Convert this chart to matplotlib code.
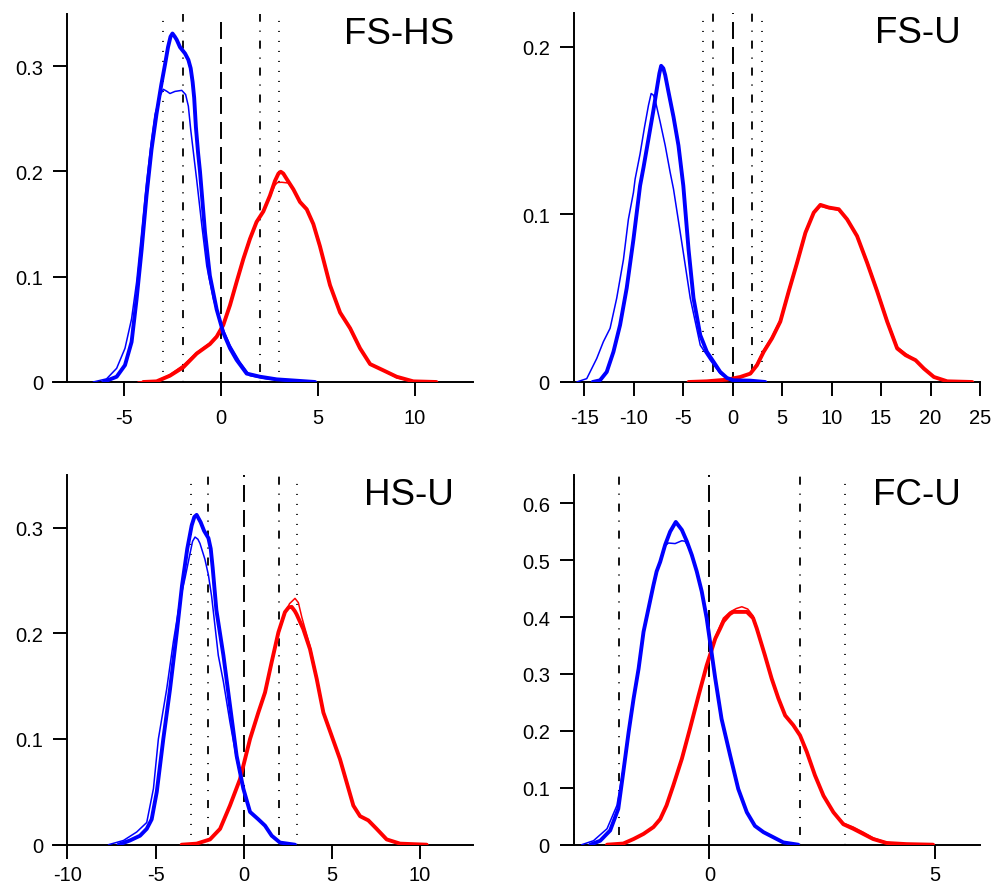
import matplotlib
matplotlib.use("Agg")
import matplotlib.pyplot as plt

plt.rcParams['font.family'] = ['Liberation Sans', 'DejaVu Sans']
plt.rcParams['lines.scale_dashes'] = False

# ---------------- Panel FS-HS ----------------
fshs_blue_thick_x = [-6.09, -5.40, -4.97, -4.63, -4.37, -4.11, -3.86, -3.60, -3.34, -3.10, -2.90, -2.75, -2.62, -2.52,
                     -2.40, -2.30, -2.13, -1.87, -1.70, -1.58, -1.48, -1.40, -1.31, -1.20, -1.10, -0.84, -0.59, -0.24,
                     0.10, 0.45, 0.79, 1.31, 2.0, 2.86, 4.06, 4.84]
fshs_blue_thick_y = [0, 0.005, 0.016, 0.038, 0.079, 0.126, 0.177, 0.221, 0.255, 0.282, 0.302, 0.318, 0.328, 0.331,
                     0.328, 0.325, 0.318, 0.312, 0.306, 0.298, 0.285, 0.270, 0.242, 0.218, 0.200, 0.142, 0.101, 0.069,
                     0.047, 0.032, 0.021, 0.008, 0.005, 0.0025, 0.001, 0]
fshs_blue_thin_x = [-6.61, -5.92, -5.40, -4.97, -4.63, -4.37, -4.11, -3.86, -3.60, -3.42, -3.16, -2.99, -2.80, -2.65,
                    -2.39, -2.04, -1.84, -1.70, -1.58, -1.40, -1.27, -1.0, -0.75, -0.41, -0.07, 0.45, 0.96, 1.48,
                    2.34, 3.37, 4.06]
fshs_blue_thin_y = [0, 0.003, 0.013, 0.032, 0.060, 0.095, 0.142, 0.189, 0.230, 0.254, 0.272, 0.278, 0.276, 0.274,
                    0.276, 0.277, 0.273, 0.262, 0.240, 0.212, 0.192, 0.148, 0.110, 0.079, 0.057, 0.035, 0.019, 0.006,
                    0.003, 0.001, 0]
fshs_red_thick_x = [-4.03, -3.34, -2.65, -1.96, -1.27, -0.59, -0.24, 0.10, 0.45, 0.79, 1.14, 1.48, 1.82, 2.17, 2.51,
                    2.77, 2.95, 3.07, 3.20, 3.37, 3.72, 4.06, 4.41, 4.75, 5.09, 5.61, 6.13, 6.65, 7.16, 7.68, 8.37,
                    9.05, 9.91, 11.1]
fshs_red_thick_y = [0, 0.0006, 0.006, 0.014, 0.027, 0.036, 0.043, 0.054, 0.073, 0.095, 0.117, 0.136, 0.152, 0.162, 0.177,
                    0.191, 0.198, 0.1997, 0.198, 0.193, 0.183, 0.171, 0.164, 0.150, 0.129, 0.092, 0.066, 0.051, 0.032,
                    0.017, 0.011, 0.005, 0.0006, 0]
fshs_red_thin_x = [-4.3, -3.34, -2.65, -1.96, -1.27, -0.59, -0.24, 0.10, 0.45, 0.79, 1.14, 1.48, 1.82, 2.17, 2.51,
                   2.77, 2.90, 3.12, 3.46, 3.80, 4.06, 4.41, 4.75, 5.09, 5.61, 6.13, 6.65, 7.16, 7.68, 8.37, 9.05,
                   9.91, 10.8]
fshs_red_thin_y = [0, 0.0008, 0.007, 0.016, 0.028, 0.037, 0.044, 0.055, 0.074, 0.096, 0.118, 0.137, 0.152, 0.162, 0.176,
                   0.187, 0.1895, 0.1897, 0.189, 0.180, 0.171, 0.165, 0.151, 0.130, 0.093, 0.066, 0.050, 0.031,
                   0.017, 0.011, 0.004, 0.0005, 0]

# ---------------- Panel FS-U ----------------
fsu_blue_thick_x = [-14.14, -13.4, -12.72, -12.04, -11.37, -10.7, -10.02, -9.35, -9.0, -8.5, -8.0, -7.65, -7.40, -7.22,
                    -7.0, -6.81, -6.48, -5.97, -5.47, -4.98, -4.45, -3.95, -3.27, -2.6, -1.92, -1.25, -0.57, 0.1,
                    1.79, 3.3]
fsu_blue_thick_y = [0, 0.001, 0.006, 0.018, 0.034, 0.056, 0.085, 0.117, 0.128, 0.145, 0.162, 0.175, 0.184, 0.1885,
                    0.187, 0.183, 0.173, 0.158, 0.141, 0.117, 0.079, 0.050, 0.028, 0.018, 0.012, 0.006, 0.0024, 0.001,
                    0.0008, 0]
fsu_blue_thin_x = [-15.76, -14.74, -13.73, -13.06, -12.38, -11.71, -11.03, -10.53, -10.02, -9.85, -9.35, -8.9, -8.5,
                   -8.23, -8.0, -7.82, -7.32, -6.81, -6.31, -5.97, -5.13, -4.28, -3.27, -2.26, -1.25, -0.24, 0.78]
fsu_blue_thin_y = [0, 0.002, 0.014, 0.024, 0.032, 0.050, 0.073, 0.097, 0.113, 0.121, 0.136, 0.152, 0.165,
                   0.172, 0.171, 0.168, 0.155, 0.141, 0.125, 0.115, 0.083, 0.050, 0.022, 0.013, 0.005, 0.001, 0]
fsu_red_thick_x = [-4.45, -2.6, -0.57, 0.78, 1.79, 2.46, 3.14, 3.98, 4.82, 5.67, 6.51, 7.36, 8.2, 8.87, 9.72, 10.73,
                   11.57, 12.58, 13.6, 14.61, 15.62, 16.63, 17.48, 18.49, 19.33, 20.34, 21.69, 24.22]
fsu_red_thick_y = [0, 0.0004, 0.0014, 0.003, 0.005, 0.010, 0.018, 0.026, 0.036, 0.054, 0.071, 0.089, 0.101, 0.1056,
                   0.104, 0.103, 0.097, 0.087, 0.071, 0.054, 0.036, 0.020, 0.016, 0.013, 0.008, 0.003, 0.0004, 0]
fsu_red_thin_x = [-3.5, -2.6, -0.57, 0.78, 1.79, 2.46, 3.14, 3.98, 4.82, 5.67, 6.51, 7.36, 8.2, 8.87, 9.72, 10.73,
                  11.57, 12.58, 13.6, 14.61, 15.62, 16.63, 17.48, 18.49, 19.33, 20.34, 21.69, 23.9]
fsu_red_thin_y = [0, 0.0004, 0.0015, 0.003, 0.005, 0.011, 0.019, 0.027, 0.037, 0.055, 0.072, 0.090, 0.101, 0.1048,
                  0.1035, 0.1025, 0.097, 0.087, 0.072, 0.055, 0.037, 0.021, 0.017, 0.013, 0.008, 0.003, 0.0004, 0]

# ---------------- Panel HS-U ----------------
hsu_blue_thick_x = [-7.1, -6.45, -5.88, -5.5, -5.22, -4.93, -4.56, -4.18, -3.8, -3.5, -3.2, -2.95, -2.80, -2.67, -2.44,
                    -2.25, -2.0, -1.87, -1.76, -1.55, -1.15, -0.78, -0.40, -0.02, 0.36, 0.83, 1.21, 1.59, 2.06, 2.91]
hsu_blue_thick_y = [0, 0.004, 0.0085, 0.015, 0.024, 0.050, 0.100, 0.147, 0.200, 0.245, 0.280, 0.302, 0.310, 0.312, 0.305,
                    0.297, 0.290, 0.280, 0.262, 0.222, 0.179, 0.132, 0.084, 0.053, 0.031, 0.024, 0.018, 0.0085, 0.002, 0]
hsu_blue_thin_x = [-7.67, -6.82, -6.07, -5.5, -5.12, -4.84, -4.37, -3.99, -3.6, -3.33, -3.05, -2.90, -2.76, -2.60,
                   -2.48, -2.20, -2.0, -1.82, -1.65, -1.44, -1.15, -0.78, -0.40, -0.02, 0.36, 0.83, 1.21, 1.59, 2.06, 2.91]
hsu_blue_thin_y = [0, 0.004, 0.012, 0.021, 0.053, 0.100, 0.147, 0.192, 0.232, 0.252, 0.275, 0.287, 0.291, 0.289,
                   0.285, 0.270, 0.255, 0.235, 0.210, 0.179, 0.154, 0.116, 0.081, 0.053, 0.031, 0.024, 0.018, 0.0085,
                   0.002, 0]
hsu_red_thick_x = [-3.52, -2.67, -1.91, -1.34, -0.78, -0.21, 0.36, 0.83, 1.21, 1.59, 1.97, 2.34, 2.55, 2.72, 2.90, 3.0,
                   3.38, 3.76, 4.14, 4.52, 4.99, 5.46, 5.84, 6.22, 6.6, 7.07, 7.54, 8.11, 8.87, 10.38]
hsu_red_thick_y = [0, 0.001, 0.005, 0.015, 0.037, 0.062, 0.100, 0.125, 0.144, 0.173, 0.201, 0.220, 0.2245, 0.225, 0.221,
                   0.218, 0.204, 0.185, 0.157, 0.125, 0.103, 0.081, 0.059, 0.037, 0.027, 0.023, 0.015, 0.005, 0.001, 0]
hsu_red_thin_x = [-3.3, -2.67, -1.91, -1.34, -0.78, -0.21, 0.36, 0.83, 1.21, 1.59, 1.97, 2.34, 2.60, 2.91, 3.10, 3.30,
                  3.45, 3.76, 4.14, 4.52, 4.99, 5.46, 5.84, 6.22, 6.6, 7.07, 7.54, 8.11, 8.87, 10.2]
hsu_red_thin_y = [0, 0.001, 0.005, 0.015, 0.037, 0.062, 0.100, 0.125, 0.144, 0.172, 0.199, 0.219, 0.228, 0.233, 0.229,
                  0.215, 0.206, 0.188, 0.158, 0.126, 0.103, 0.081, 0.059, 0.037, 0.027, 0.023, 0.015, 0.005, 0.001, 0]

# ---------------- Panel FC-U ----------------
fcu_blue_thick_x = [-2.64, -2.42, -2.20, -2.02, -1.91, -1.79, -1.68, -1.57, -1.46, -1.35, -1.24, -1.17, -1.09, -0.98,
                    -0.87, -0.745, -0.61, -0.50, -0.39, -0.28, -0.17, -0.06, 0.13, 0.27, 0.46, 0.64, 0.83, 1.01, 1.20,
                    1.42, 1.64, 1.97]
fcu_blue_thick_y = [0, 0.007, 0.025, 0.063, 0.127, 0.198, 0.257, 0.309, 0.374, 0.415, 0.456, 0.480, 0.497, 0.527,
                    0.550, 0.567, 0.553, 0.533, 0.509, 0.480, 0.445, 0.398, 0.292, 0.221, 0.157, 0.098, 0.057, 0.033,
                    0.022, 0.013, 0.004, 0]
fcu_blue_thin_x = [-2.83, -2.57, -2.27, -2.05, -1.91, -1.79, -1.68, -1.57, -1.46, -1.35, -1.24, -1.17, -1.09, -0.98,
                   -0.91, -0.76, -0.61, -0.54, -0.45, -0.39, -0.28, -0.17, -0.06, 0.13, 0.27, 0.46, 0.64, 0.83, 1.01,
                   1.20, 1.42, 1.64, 1.97]
fcu_blue_thin_y = [0, 0.007, 0.028, 0.069, 0.133, 0.200, 0.258, 0.309, 0.374, 0.415, 0.456, 0.480, 0.497, 0.525,
                   0.530, 0.529, 0.534, 0.533, 0.520, 0.509, 0.480, 0.445, 0.398, 0.292, 0.221, 0.157, 0.098, 0.057,
                   0.033, 0.022, 0.013, 0.004, 0]
fcu_red_thick_x = [-2.27, -1.91, -1.68, -1.46, -1.24, -1.09, -0.95, -0.80, -0.61, -0.43, -0.24, -0.06, 0.13, 0.24,
                   0.31, 0.45, 0.53, 0.83, 0.97, 1.05, 1.23, 1.38, 1.53, 1.68, 1.86, 2.01, 2.16, 2.34, 2.53, 2.75,
                   2.97, 3.19, 3.41, 3.63, 3.93, 4.37, 4.96]
fcu_red_thick_y = [0, 0.002, 0.010, 0.019, 0.031, 0.045, 0.069, 0.104, 0.151, 0.204, 0.262, 0.315, 0.362, 0.380,
                   0.392, 0.405, 0.409, 0.409, 0.398, 0.380, 0.333, 0.292, 0.257, 0.227, 0.210, 0.192, 0.163, 0.122,
                   0.086, 0.057, 0.036, 0.028, 0.019, 0.010, 0.003, 0.001, 0]
fcu_red_thin_x = [-2.1, -1.91, -1.68, -1.46, -1.24, -1.09, -0.95, -0.80, -0.61, -0.43, -0.24, -0.06, 0.13, 0.31,
                  0.46, 0.60, 0.72, 0.85, 0.97, 1.05, 1.23, 1.38, 1.53, 1.68, 1.86, 2.01, 2.16, 2.34, 2.53, 2.75,
                  2.97, 3.19, 3.41, 3.63, 3.93, 4.37, 4.8]
fcu_red_thin_y = [0, 0.002, 0.009, 0.018, 0.030, 0.044, 0.068, 0.103, 0.150, 0.203, 0.262, 0.316, 0.365, 0.398,
                  0.409, 0.415, 0.418, 0.414, 0.402, 0.382, 0.334, 0.292, 0.257, 0.227, 0.210, 0.192, 0.163, 0.122,
                  0.086, 0.057, 0.038, 0.031, 0.022, 0.012, 0.004, 0.001, 0]

# ---------------- Shared reference lines / labels ----------------
panel_titles = ["FS-HS", "FS-U", "HS-U", "FC-U"]
ref_dashed = [0]
ref_dotdash = [-2, 2]
ref_dotted = [-3, 3]

fshs_xticks = [-5, 0, 5, 10]
fsu_xticks = [-15, -10, -5, 0, 5, 10, 15, 20, 25]
hsu_xticks = [-10, -5, 0, 5, 10]
fcu_xticks = [0, 5]
fshs_yticks = [0, 0.1, 0.2, 0.3]
fsu_yticks = [0, 0.1, 0.2]
hsu_yticks = [0, 0.1, 0.2, 0.3]
fcu_yticks = [0, 0.1, 0.2, 0.3, 0.4, 0.5, 0.6]

W, H = 1003, 887
fig = plt.figure(figsize=(W / 100, H / 100), dpi=100)

panels = [
    # (px left, px right, px top, px bottom), xlim, yaxis_x, ytop, xticks, yticks, xpad, data
    ((53.3, 473.0, 14.5, 383.0), (-8.67, 12.99), -7.95, 0.35, fshs_xticks, fshs_yticks, 9.0,
     (fshs_blue_thick_x, fshs_blue_thick_y, fshs_blue_thin_x, fshs_blue_thin_y,
      fshs_red_thick_x, fshs_red_thick_y, fshs_red_thin_x, fshs_red_thin_y)),
    ((561.0, 980.0, 14.0, 383.0), (-17.34, 25.0), -16.02, 0.22, fsu_xticks, fsu_yticks, 9.0,
     (fsu_blue_thick_x, fsu_blue_thick_y, fsu_blue_thin_x, fsu_blue_thin_y,
      fsu_red_thick_x, fsu_red_thick_y, fsu_red_thin_x, fsu_red_thin_y)),
    ((53.3, 472.7, 475.7, 845.7), (-10.8, 12.99), -10.0, 0.35, hsu_xticks, hsu_yticks, 4.8,
     (hsu_blue_thick_x, hsu_blue_thick_y, hsu_blue_thin_x, hsu_blue_thin_y,
      hsu_red_thick_x, hsu_red_thick_y, hsu_red_thin_x, hsu_red_thin_y)),
    ((561.0, 980.0, 475.7, 845.7), (-3.29, 6.0), -3.0, 0.65, fcu_xticks, fcu_yticks, 4.8,
     (fcu_blue_thick_x, fcu_blue_thick_y, fcu_blue_thin_x, fcu_blue_thin_y,
      fcu_red_thick_x, fcu_red_thick_y, fcu_red_thin_x, fcu_red_thin_y)),
]

def ylab(v):
    return "0" if v == 0 else f"{v:.1f}"

for (box, xlim, yax, ytop, xt, yt, xpad, d), title in zip(panels, panel_titles):
    l, r, t, b = box
    ax = fig.add_axes([l / W, 1 - b / H, (r - l) / W, (b - t) / H])
    ax.set_xlim(*xlim)
    ax.set_ylim(0, ytop)
    for s in ['top', 'right']:
        ax.spines[s].set_visible(False)
    ax.spines['left'].set_position(('data', yax))
    for s in ['left', 'bottom']:
        ax.spines[s].set_linewidth(1.4)
    ax.set_xticks(xt)
    ax.set_xticklabels([str(v) for v in xt])
    ax.set_yticks(yt)
    ax.set_yticklabels([ylab(v) for v in yt])
    ax.tick_params(direction='out', length=10, width=1.4, labelsize=14.5, colors='black')
    ax.tick_params(axis='x', pad=xpad)
    ax.tick_params(axis='y', pad=7.5)
    ax.patch.set_visible(False)

    for xv in ref_dotted:
        ax.axvline(xv, color='black', lw=1.2, linestyle=(0, (0.8, 6.4)), zorder=1)
    for xv in ref_dotdash:
        ax.axvline(xv, color='black', lw=1.3, linestyle=(0, (0.8, 6.4, 5.8, 6.4)), zorder=1)
    for xv in ref_dashed:
        ax.axvline(xv, color='black', lw=1.4, linestyle=(5, (12.2, 5.8)), zorder=1)

    bx, by, bxt, byt, rx, ry, rxt, ryt = d
    kw = dict(solid_joinstyle='round', solid_capstyle='round', zorder=3)
    ax.plot(rx, ry, color='#ff0000', lw=2.8, **kw)
    ax.plot(rxt, ryt, color='#ff0000', lw=1.1, **kw)
    ax.plot(bx, by, color='#0000ff', lw=2.8, **kw)
    ax.plot(bxt, byt, color='#0000ff', lw=1.1, **kw)

    ax.annotate(title, xy=(1, 1), xycoords='axes fraction', xytext=(-13.7, -20.9),
                textcoords='offset points', ha='right', va='baseline', fontsize=26.5)

fig.savefig("out.png", dpi=100)
